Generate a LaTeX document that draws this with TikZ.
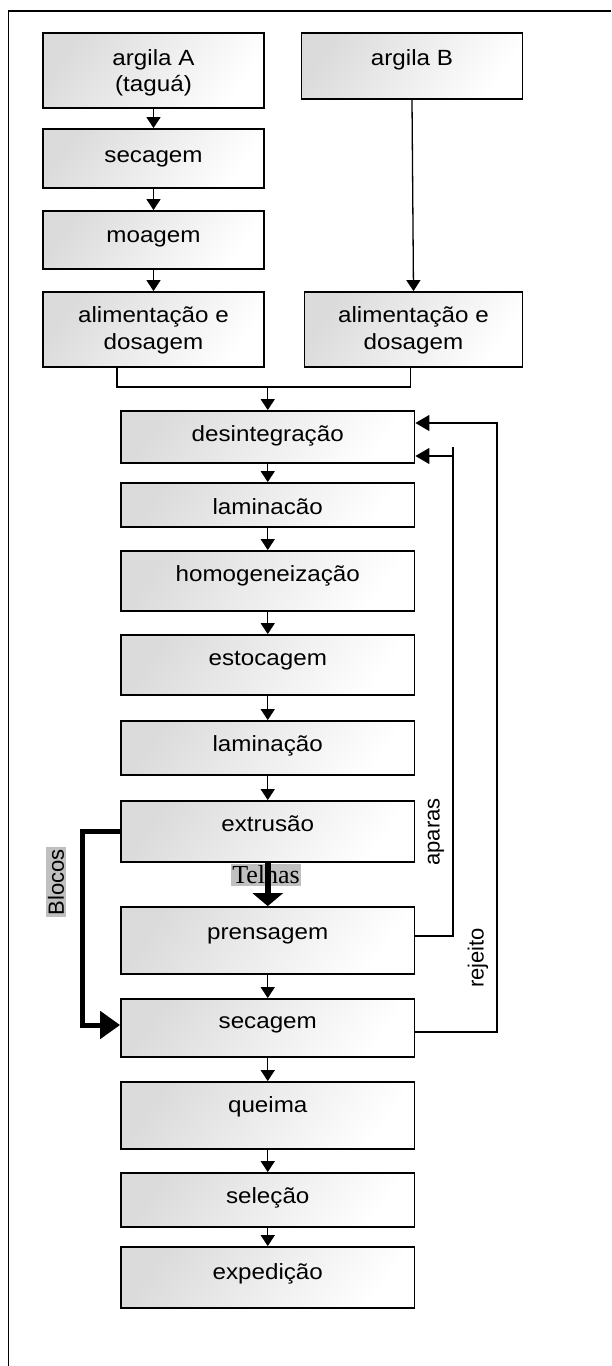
\documentclass[tikz,border=0pt]{standalone}
\usepackage{fontspec}
\setmainfont{Liberation Sans}
\newfontfamily\boxfont[FakeStretch=1.1]{Liberation Sans}
\newfontfamily\rotfont{Liberation Sans}
\newfontfamily\serffont{Liberation Serif}
\usetikzlibrary{arrows.meta,calc}
\definecolor{lblgray}{HTML}{C0C0C0}
\tikzset{
  procbox/.style={draw=black, line width=1.8pt, inner sep=0pt,
    top color=black!14, bottom color=white, shading angle=55},
  boxtxt/.style={anchor=base, inner sep=0pt, font=\boxfont\fontsize{22}{24}\selectfont},
  rottxt/.style={rotate=90, inner sep=1pt, font=\rotfont\fontsize{22}{24}\selectfont},
  conn/.style={line width=1.3pt},
  thinarrow/.style={line width=1.3pt, -{Triangle[width=14pt,length=11pt]}},
  fbarrow/.style={line width=1.3pt, -{Triangle[width=16pt,length=14pt]}},
  thickarrow/.style={line width=5.5pt, line join=miter, -{Triangle[width=30pt,length=13pt]}},
  blocarrow/.style={line width=5pt, line join=miter, -{Triangle[width=27pt,length=20pt]}},
}
\begin{document}
\begin{tikzpicture}[x=1pt,y=-1pt]
\useasboundingbox (0,0) rectangle (611,1366);
\draw[line width=1.6pt] (611,11) -- (8.5,11) -- (8.5,1366);

% left column
\node[procbox, minimum width=221pt, minimum height=75pt] (argA) at (153.5,70.5) {};
\node[procbox, minimum width=221pt, minimum height=66pt] (argB) at (412,66) {};
\node[procbox, minimum width=221pt, minimum height=59pt] (sec1) at (153.5,158.5) {};
\node[procbox, minimum width=221pt, minimum height=58pt] (moag) at (153.5,240) {};
\node[procbox, minimum width=221pt, minimum height=75pt] (alimA) at (153.5,329.5) {};
\node[procbox, minimum width=218pt, minimum height=75pt] (alimB) at (413.5,329.5) {};

% central column
\node[procbox, minimum width=293.5pt, minimum height=52pt] (desint) at (267.75,437) {};
\node[procbox, minimum width=293.5pt, minimum height=44pt] (lam1) at (267.75,505) {};
\node[procbox, minimum width=293.5pt, minimum height=60pt] (homog) at (267.75,581) {};
\node[procbox, minimum width=293.5pt, minimum height=60pt] (estoc) at (267.75,665) {};
\node[procbox, minimum width=293.5pt, minimum height=54pt] (lam2) at (267.75,748) {};
\node[procbox, minimum width=293.5pt, minimum height=61pt] (extru) at (267.75,831.5) {};
\node[procbox, minimum width=293.5pt, minimum height=67pt] (prens) at (267.75,940.5) {};
\node[procbox, minimum width=293.5pt, minimum height=58pt] (sec2) at (267.75,1028) {};
\node[procbox, minimum width=293.5pt, minimum height=67pt] (queima) at (267.75,1115.5) {};
\node[procbox, minimum width=293.5pt, minimum height=54pt] (selec) at (267.75,1200) {};
\node[procbox, minimum width=293.5pt, minimum height=61pt] (exped) at (267.75,1277.5) {};

% texts
\node[boxtxt] (tArgA1) at ([yshift=-33pt]argA.north) {argila A};
\node[boxtxt] (tArgA2) at ([yshift=-59pt]argA.north) {(taguá)};
\node[boxtxt] (tArgB) at ([yshift=-33pt]argB.north) {argila B};
\node[boxtxt] (tSec1) at ([yshift=-34pt]sec1.north) {secagem};
\node[boxtxt] (tMoag) at ([yshift=-32pt]moag.north) {moagem};
\node[boxtxt] (tAlimA1) at ([yshift=-31pt]alimA.north) {alimentação e};
\node[boxtxt] (tAlimA2) at ([yshift=-58pt]alimA.north) {dosagem};
\node[boxtxt] (tAlimB1) at ([yshift=-31pt]alimB.north) {alimentação e};
\node[boxtxt] (tAlimB2) at ([yshift=-58pt]alimB.north) {dosagem};
\node[boxtxt] (tDesint) at ([yshift=-31pt]desint.north) {desintegração};
\node[boxtxt] (tLam1) at ([yshift=-32pt]lam1.north) {laminacão};
\node[boxtxt] (tHomog) at ([yshift=-31pt]homog.north) {homogeneização};
\node[boxtxt] (tEstoc) at ([yshift=-31pt]estoc.north) {estocagem};
\node[boxtxt] (tLam2) at ([yshift=-31pt]lam2.north) {laminação};
\node[boxtxt] (tExtru) at ([yshift=-31pt]extru.north) {extrusão};
\node[boxtxt] (tPrens) at ([yshift=-33pt]prens.north) {prensagem};
\node[boxtxt] (tSec2) at ([yshift=-30pt]sec2.north) {secagem};
\node[boxtxt] (tQueima) at ([yshift=-31pt]queima.north) {queima};
\node[boxtxt] (tSelec) at ([yshift=-31pt]selec.north) {seleção};
\node[boxtxt] (tExped) at ([yshift=-33pt]exped.north) {expedição};

% left column arrows
\draw[thinarrow] (argA.south) -- (sec1.north);
\draw[thinarrow] (sec1.south) -- (moag.north);
\draw[thinarrow] (moag.south) -- (alimA.north);
\draw[thinarrow] (argB.south) -- (alimB.north);

% merge
\coordinate (mL) at (117,387);
\coordinate (mR) at (410.7,387);
\coordinate (mC) at (267.75,387);
\draw[conn] (alimA.south -| mL) -- (mL) -- (mR) -- (alimB.south -| mR);
\draw[thinarrow] (mC) -- (desint.north);

% central arrows
\draw[thinarrow] (desint.south) -- (lam1.north);
\draw[thinarrow] (lam1.south) -- (homog.north);
\draw[thinarrow] (homog.south) -- (estoc.north);
\draw[thinarrow] (estoc.south) -- (lam2.north);
\draw[thinarrow] (lam2.south) -- (extru.north);
\draw[thinarrow] (prens.south) -- (sec2.north);
\draw[thinarrow] (sec2.south) -- (queima.north);
\draw[thinarrow] (queima.south) -- (selec.north);
\draw[thinarrow] (selec.south) -- (exped.north);

% Telhas
\node[fill=lblgray, inner sep=1.5pt, font=\serffont\fontsize{26}{27}\selectfont] (telhas) at (266,875) {Telhas};
\draw[thickarrow] (extru.south) -- (prens.north);

% Blocos
\node[rottxt, fill=lblgray, inner sep=2pt] (blocos) at (56,882) {Blocos};
\coordinate (bl1) at (82.7,831.5);
\coordinate (bl2) at (82.7,1025);
\draw[blocarrow] (extru.west |- bl1) -- (bl1) -- (bl2) -- (bl2 -| sec2.west);

% aparas
\coordinate (ap1) at (453,936);
\coordinate (ap2) at (453,456);
\coordinate (ap3) at (453,447);
\draw[conn] (prens.east |- ap1) -- (ap1) -- (ap3);
\draw[fbarrow] (ap2) -- (ap2 -| desint.east);
\node[rottxt] (aparas) at (436,832) {aparas};

% rejeito
\coordinate (rj1) at (497,1032);
\coordinate (rj2) at (497,423);
\draw[fbarrow] (sec2.east |- rj1) -- (rj1) -- (rj2) -- (rj2 -| desint.east);
\node[rottxt] (rejeito) at (478,958) {rejeito};
\end{tikzpicture}
\end{document}
